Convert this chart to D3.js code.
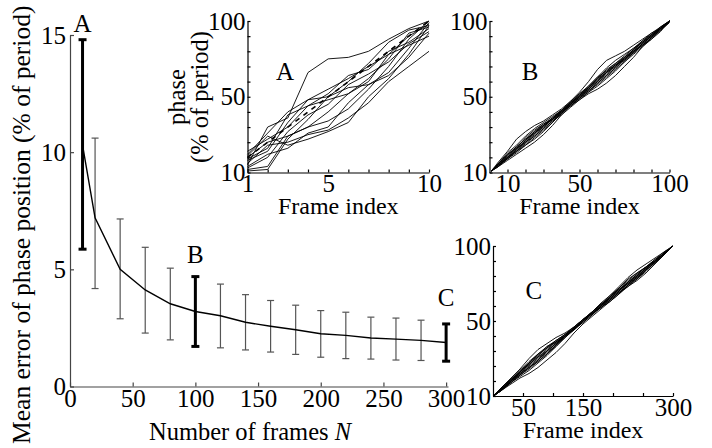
<!DOCTYPE html>
<html>
<head>
<meta charset="utf-8">
<script src="https://cdn.jsdelivr.net/npm/d3@7"></script>
<style>
    body { margin: 0; background: #fff; }
    svg text { font-family: "Liberation Serif", "Times New Roman", serif; fill: #000; }
    .main-axis path, .main-axis line { stroke: #444; stroke-width: 1.2; }
    .inset-axis path, .inset-axis line { stroke: #000; stroke-width: 1.2; }
    .tick text { font-size: 25px; }
</style>
</head>
<body>
<div id="chart"></div>
<script>
// main panel: mean error vs number of frames
const frameCounts = [10, 20, 40, 60, 80, 100, 120, 140, 160, 180, 200, 220, 240, 260, 280, 300];
const meanError = [10.3, 7.2, 5.0, 4.12, 3.53, 3.2, 3.02, 2.74, 2.57, 2.42, 2.25, 2.18, 2.07, 2.02, 1.97, 1.88];
const errorHigh = [14.8, 10.6, 7.15, 5.94, 5.05, 4.69, 4.37, 3.92, 3.67, 3.47, 3.24, 3.17, 2.96, 2.92, 2.83, 2.67];
const errorLow = [5.86, 4.18, 2.89, 2.28, 1.99, 1.71, 1.65, 1.56, 1.47, 1.37, 1.25, 1.19, 1.17, 1.13, 1.11, 1.08];
const highlighted = [10, 100, 300];
const highlightNames = ["A", "B", "C"];
const mainXTicks = [0, 50, 100, 150, 200, 250, 300];
const mainYTicks = [0, 5, 10, 15];

// inset A: N = 10
const framesA = [1, 2, 3, 4, 5, 6, 7, 8, 9, 10];
const idealA = [10, 20, 30, 40, 50, 60, 70, 80, 90, 100];
const tracesA = [
    [5, 30, 36, 66, 75, 76, 80, 88, 95, 100],
    [12, 26, 40, 48, 55, 62, 70, 78, 90, 98],
    [8, 14, 33, 48, 50, 60, 72, 86, 94, 97],
    [3, 10, 27, 38, 45, 58, 65, 73, 85, 93],
    [10, 20, 24, 30, 34, 42, 55, 70, 88, 100],
    [2, 4, 24, 30, 40, 52, 62, 75, 92, 96],
    [6, 18, 20, 25, 28, 36, 46, 60, 70, 80],
    [14, 22, 30, 44, 52, 64, 68, 80, 86, 95],
    [4, 12, 16, 26, 30, 46, 58, 66, 82, 99],
    [9, 16, 38, 44, 48, 52, 60, 78, 84, 90],
    [1, 2, 22, 35, 50, 56, 58, 64, 76, 92],
    [11, 24, 18, 22, 27, 33, 50, 62, 78, 97]
];

// inset B: N = 100
const framesB = [1, 5, 10, 15, 20, 25, 30, 35, 40, 45, 50, 55, 60, 65, 70, 75, 80, 85, 90, 95, 100];
const tracesB = [
    [1, 7, 14, 22, 27, 31, 34, 38, 42, 47, 53, 60, 68, 74, 77, 80, 84, 88, 92, 96, 100],
    [1, 4, 8, 12, 16, 20, 25, 31, 38, 44, 48, 52, 55, 59, 64, 70, 76, 83, 89, 95, 100],
    [1, 6, 12, 17, 22, 27, 31, 35, 40, 45, 51, 56, 61, 66, 71, 76, 81, 86, 91, 95, 100],
    [1, 5, 10, 14, 19, 24, 29, 34, 39, 44, 49, 54, 59, 64, 69, 74, 79, 84, 89, 94, 99],
    [1, 6, 11, 16, 21, 26, 30, 36, 41, 46, 50, 55, 61, 67, 72, 76, 80, 85, 90, 95, 100],
    [1, 5, 9, 15, 21, 27, 32, 36, 40, 46, 51, 55, 60, 65, 70, 75, 79, 85, 90, 96, 100],
    [1, 6, 13, 18, 24, 29, 33, 37, 41, 45, 50, 56, 62, 68, 72, 77, 82, 87, 91, 95, 100],
    [1, 4, 9, 13, 18, 23, 28, 33, 39, 45, 50, 54, 58, 63, 68, 73, 78, 83, 88, 94, 99],
    [1, 5, 11, 17, 22, 26, 31, 36, 41, 47, 52, 57, 63, 69, 74, 78, 82, 86, 90, 95, 100],
    [1, 5, 10, 15, 20, 25, 30, 35, 40, 44, 49, 55, 60, 66, 71, 75, 80, 85, 90, 95, 100],
    [1, 6, 10, 16, 20, 26, 31, 35, 41, 46, 52, 56, 62, 66, 70, 76, 81, 86, 91, 96, 100],
    [1, 4, 10, 14, 20, 24, 29, 34, 38, 43, 48, 53, 59, 64, 69, 75, 80, 84, 89, 94, 100],
    [1, 6, 12, 16, 23, 28, 32, 35, 39, 46, 51, 57, 63, 67, 71, 74, 81, 87, 92, 95, 100],
    [1, 5, 9, 14, 18, 22, 27, 33, 40, 45, 49, 53, 57, 62, 67, 73, 79, 84, 88, 93, 100]
];

// inset C: N = 300
const framesC = [1, 15, 30, 45, 60, 75, 90, 105, 120, 135, 150, 165, 180, 195, 210, 225, 240, 255, 270, 285, 300];
const tracesC = [
    [0, 6, 12, 18, 25, 31, 35, 39, 42, 46, 51, 56, 61, 67, 73, 79, 84, 88, 92, 96, 100],
    [0, 4, 8, 12, 15, 19, 24, 29, 35, 42, 48, 53, 58, 63, 68, 73, 77, 82, 88, 94, 100],
    [0, 5, 11, 16, 22, 27, 32, 37, 41, 46, 51, 56, 61, 66, 71, 76, 81, 86, 91, 95, 100],
    [0, 5, 9, 14, 19, 23, 28, 33, 39, 44, 49, 54, 59, 64, 69, 74, 79, 84, 89, 95, 100],
    [0, 5, 10, 16, 21, 26, 31, 36, 40, 45, 50, 55, 60, 66, 71, 76, 80, 85, 90, 95, 100],
    [0, 4, 10, 15, 19, 24, 29, 34, 39, 45, 50, 55, 60, 64, 69, 74, 79, 85, 90, 95, 100],
    [0, 5, 11, 17, 23, 28, 32, 36, 41, 46, 51, 56, 61, 66, 72, 77, 82, 86, 90, 95, 100],
    [0, 5, 10, 14, 18, 23, 28, 34, 40, 45, 50, 55, 59, 64, 69, 73, 78, 84, 89, 94, 100],
    [0, 6, 11, 16, 21, 26, 30, 35, 40, 45, 50, 56, 61, 65, 70, 75, 80, 85, 90, 95, 100],
    [0, 5, 10, 15, 20, 25, 30, 35, 40, 45, 50, 55, 60, 65, 70, 75, 80, 85, 90, 95, 100],
    [0, 5, 10, 15, 21, 27, 33, 37, 41, 45, 49, 54, 60, 66, 71, 75, 79, 84, 89, 94, 100],
    [0, 4, 9, 14, 19, 24, 30, 35, 40, 45, 50, 55, 60, 65, 70, 76, 81, 86, 91, 96, 100],
    [0, 6, 11, 17, 22, 28, 33, 36, 40, 44, 50, 56, 62, 67, 72, 78, 82, 86, 90, 95, 100],
    [0, 4, 9, 13, 17, 22, 27, 33, 39, 45, 51, 55, 59, 63, 68, 74, 78, 83, 89, 95, 100]
];

const insetYTicks = [0, 10, 20, 30, 40, 50, 60, 70, 80, 90, 100];
const insetYLabelValues = [0, 50, 100];
const insetYLabelText = ["10", "50", "100"];

const width = 712, height = 448;

const svg = d3.select("#chart")
    .append("svg")
    .attr("width", width)
    .attr("height", height);

// ---------- main panel ----------
const x = d3.scaleLinear().domain([0, 301.5]).range([70, 448]);
const y = d3.scaleLinear().domain([0, 15]).range([386.5, 35]);

svg.append("g")
    .attr("class", "main-axis")
    .attr("transform", `translate(0, ${y(0)})`)
    .call(d3.axisBottom(x).tickValues(mainXTicks).tickSize(-4).tickSizeOuter(0).tickPadding(3));

svg.append("g")
    .attr("class", "main-axis")
    .attr("transform", `translate(${x(0)}, 0)`)
    .call(d3.axisLeft(y).tickValues(mainYTicks).tickSize(-4).tickSizeOuter(0).tickPadding(4));

let bars = frameCounts.map((n, i) => ({
    n: n,
    mean: meanError[i],
    low: errorLow[i],
    high: errorHigh[i],
    bold: highlighted.includes(n)
}));

let barGroup = svg.append("g");
bars.forEach(d => {
    let w = d.bold ? 4 : 3.5;
    let color = d.bold ? "#000" : "#555";
    let sw = d.bold ? 3 : 1.2;
    barGroup.append("line")
        .attr("x1", x(d.n)).attr("x2", x(d.n))
        .attr("y1", y(d.low)).attr("y2", y(d.high))
        .attr("stroke", color).attr("stroke-width", sw);
    [d.low, d.high].forEach(v => {
        barGroup.append("line")
            .attr("x1", x(d.n) - w).attr("x2", x(d.n) + w)
            .attr("y1", y(v)).attr("y2", y(v))
            .attr("stroke", color).attr("stroke-width", sw);
    });
});

svg.append("path")
    .datum(bars)
    .attr("fill", "none")
    .attr("stroke", "#000")
    .attr("stroke-width", 1.4)
    .attr("d", d3.line().x(d => x(d.n)).y(d => y(d.mean)));

// A, B, C markers above the bold bars
const labelGap = [8, 14, 18];
highlighted.forEach((n, k) => {
    let d = bars.find(b => b.n === n);
    svg.append("text")
        .attr("x", x(n))
        .attr("y", y(d.high) - labelGap[k])
        .attr("text-anchor", "middle")
        .attr("font-size", 25)
        .text(highlightNames[k]);
});

svg.append("text")
    .attr("transform", `translate(30, ${(y(0) + y(15)) / 2 + 14}) rotate(-90)`)
    .attr("text-anchor", "middle")
    .attr("font-size", 25.5)
    .text("Mean error of phase position (% of period)");

let xTitle = svg.append("text")
    .attr("x", 250)
    .attr("y", 440)
    .attr("text-anchor", "middle")
    .attr("font-size", 24.5);
xTitle.append("tspan").text("Number of frames ");
xTitle.append("tspan").attr("font-style", "italic").text("N");

// ---------- insets ----------
function drawInset(o) {
    let g = svg.append("g");
    let ix = d3.scaleLinear().domain(o.xDomain).range([o.left, o.right]);
    let iy = d3.scaleLinear().domain([0, 100]).range([o.bottom, o.top]);

    let line = d3.line()
        .x((d, i) => ix(o.frames[i]))
        .y(d => iy(d));

    g.selectAll("path.trace")
        .data(o.traces)
        .join("path")
        .attr("class", "trace")
        .attr("fill", "none")
        .attr("stroke", "#000")
        .attr("stroke-width", 0.9)
        .attr("d", line);

    if (o.ideal) {
        g.append("path")
            .attr("fill", "none")
            .attr("stroke", "#000")
            .attr("stroke-width", 1.6)
            .attr("stroke-dasharray", "5,5")
            .attr("d", line(o.ideal));
    }

    g.append("g")
        .attr("class", "inset-axis")
        .attr("transform", `translate(0, ${o.bottom})`)
        .call(d3.axisBottom(ix)
            .tickValues(o.xTicks)
            .tickSize(-3).tickSizeOuter(0).tickPadding(2)
            .tickFormat(d => o.xLabels.includes(d) ? d : ""));

    g.append("g")
        .attr("class", "inset-axis")
        .attr("transform", `translate(${o.left}, 0)`)
        .call(d3.axisLeft(iy)
            .tickValues(insetYTicks)
            .tickSize(-3).tickSizeOuter(0).tickPadding(2)
            .tickFormat(d => {
                let k = insetYLabelValues.indexOf(d);
                return k >= 0 ? insetYLabelText[k] : "";
            }));

    g.append("text")
        .attr("x", (o.left + o.right) / 2)
        .attr("y", o.bottom + o.titleGap)
        .attr("text-anchor", "middle")
        .attr("font-size", 24)
        .text("Frame index");

    g.append("text")
        .attr("x", ix(o.nameAt[0]))
        .attr("y", iy(o.nameAt[1]))
        .attr("text-anchor", "middle")
        .attr("font-size", 25)
        .text(o.name);
}

drawInset({
    name: "A", nameAt: [2.86, 61],
    xDomain: [1, 10], left: 247.5, right: 429, top: 21, bottom: 172.5, titleGap: 41,
    frames: framesA, traces: tracesA, ideal: idealA,
    xTicks: [1, 2, 3, 4, 5, 6, 7, 8, 9, 10], xLabels: [1, 5, 10]
});

drawInset({
    name: "B", nameAt: [22.5, 61],
    xDomain: [0, 100], left: 489.5, right: 669.5, top: 21, bottom: 172.5, titleGap: 41,
    frames: framesB, traces: tracesB,
    xTicks: [10, 20, 30, 40, 50, 60, 70, 80, 90, 100], xLabels: [10, 50, 100]
});

drawInset({
    name: "C", nameAt: [68, 65],
    xDomain: [0, 300], left: 493, right: 673, top: 246, bottom: 396, titleGap: 42,
    frames: framesC, traces: tracesC,
    xTicks: [50, 100, 150, 200, 250, 300], xLabels: [50, 150, 300]
});

// y title of inset A
let yTitle = svg.append("text")
    .attr("transform", "translate(185, 97) rotate(-90)")
    .attr("text-anchor", "middle")
    .attr("font-size", 24.5);
yTitle.append("tspan").attr("x", 0).attr("dy", 0).text("phase");
yTitle.append("tspan").attr("x", 0).attr("dy", 23).text("(% of period)");
</script>
</body>
</html>
